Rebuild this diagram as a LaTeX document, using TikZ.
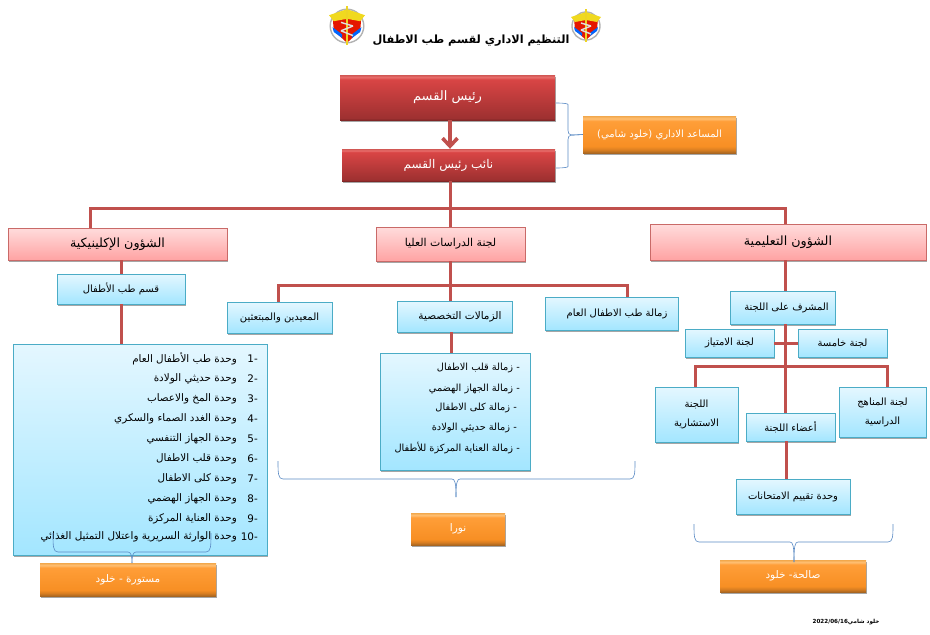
\documentclass[tikz,border=0pt]{standalone}
\usepackage{fontspec}
\usetikzlibrary{shadows,arrows.meta}
\TeXXeTstate=1
\newfontfamily\arabicfont[Script=Arabic]{DejaVu Sans}
\newcommand{\ar}[1]{{\arabicfont\beginR #1\endR}}
\definecolor{linkred}{HTML}{C0504D}
\definecolor{braceblue}{HTML}{5B8BC4}
\definecolor{pinktop}{HTML}{FFDCDC}
\definecolor{pinkbottom}{HTML}{FFA3A3}
\definecolor{bluetop}{HTML}{E4F7FF}
\definecolor{bluebottom}{HTML}{A3E6FF}
\definecolor{blueline}{HTML}{4BACC6}
\pgfdeclareverticalshading{redshade}{100bp}{rgb(0bp)=(0.50,0.15,0.15);rgb(25bp)=(0.50,0.15,0.15);
  rgb(27bp)=(0.62,0.19,0.19);rgb(70bp)=(0.85,0.27,0.27);rgb(72.5bp)=(0.91,0.43,0.42);rgb(75bp)=(0.82,0.34,0.33);rgb(100bp)=(0.82,0.34,0.33)}
\pgfdeclareverticalshading{orangeshade}{100bp}{rgb(0bp)=(0.66,0.40,0.13);rgb(25bp)=(0.66,0.40,0.13);
  rgb(29bp)=(0.84,0.49,0.13);rgb(34bp)=(0.97,0.56,0.14);rgb(68bp)=(1,0.62,0.22);rgb(71.5bp)=(1,0.75,0.45);rgb(75bp)=(0.95,0.66,0.30);rgb(100bp)=(0.95,0.66,0.30)}
\tikzset{
  box/.style={inner sep=1pt,align=center,text=black,drop shadow={shadow xshift=.8pt,shadow yshift=-1.5pt,opacity=.35,fill=black}},
  redbox/.style={box,shading=redshade,text=white,font=\fontsize{13}{15}\selectfont},
  orangebox/.style={box,shading=orangeshade,text=white,font=\fontsize{10.5}{12}\selectfont},
  pinkbox/.style={box,draw=linkred!85,line width=.8pt,top color=pinktop,bottom color=pinkbottom,font=\fontsize{12.7}{15}\selectfont},
  bluebox/.style={box,draw=blueline,line width=.8pt,top color=bluetop,bottom color=bluebottom,font=\fontsize{10}{12}\selectfont},
  rowtext/.style={inner sep=0pt,font=\fontsize{10.4}{12}\selectfont},
  fellowtext/.style={inner sep=0pt,font=\fontsize{9.8}{12}\selectfont},
  link/.style={draw=linkred,line width=3pt},
  bracket/.style={draw=braceblue,line width=.6pt,rounded corners=2.5pt},
}
\begin{document}
\begin{tikzpicture}[x=1pt,y=-1pt]
\useasboundingbox (0,0) rectangle (930,635);

% title and the two emblems
\node[inner sep=0pt,font=\fontsize{11.3}{13}\selectfont\bfseries] (title) at (471,41) {\ar{التنظيم الاداري لقسم طب الاطفال}};
\foreach \ex/\ey/\es in {347/26/1.2,586/26/1}{
  \begin{scope}[shift={(\ex,\ey)},scale=\es]
    \draw[gray!60,line width=1.4pt] (0,0) circle[radius=14pt];
    \fill[red!80!orange!90!black] (-12,-8) -- (12,-8) -- (11,4) -- (0,14) -- (-11,4) -- cycle;
    \fill[blue!60!cyan] (-12,1) -- (-4,7) -- (-4,10) -- (-11,5) -- cycle;
    \fill[blue!60!cyan] (12,1) -- (4,7) -- (4,10) -- (11,5) -- cycle;
    \fill[yellow!75!brown] (-15,-9) -- (0,-14) -- (15,-9) -- (11,-4) -- (0,-6) -- (-11,-4) -- cycle;
    \fill[yellow!70!brown] (-1.1,-17) rectangle (1.1,16);
    \draw[gray!25,line width=1.4pt] (-5,-3) -- (5,0) (5,0) -- (-5,4) (-5,4) -- (5,8);
  \end{scope}
}

% top of the chart
\node[redbox,minimum width=215pt,minimum height=45pt] (head) at (447.5,97.5) {\ar{رئيس القسم}};
\node[redbox,minimum width=213pt,minimum height=32pt,font=\fontsize{12}{14}\selectfont] (deputy) at (448.5,165) {\ar{نائب رئيس القسم}};
\node[orangebox,minimum width=153pt,minimum height=37pt,font=\fontsize{10}{12}\selectfont] (assistant) at (659.5,134.5) {\ar{المساعد الاداري (خلود شامي)}};

% the three offices
\node[pinkbox,minimum width=219pt,minimum height=32pt] (clinical) at (117.5,244) {\ar{الشؤون الإكلينيكية}};
\node[pinkbox,minimum width=149pt,minimum height=34pt,font=\fontsize{10.9}{13}\selectfont] (postgrad) at (450.5,244) {\ar{لجنة الدراسات العليا}};
\node[pinkbox,minimum width=276pt,minimum height=36pt] (education) at (788,242) {\ar{الشؤون التعليمية}};

% left branch
\node[bluebox,minimum width=128pt,minimum height=30pt] (pediatrics) at (121,289) {\ar{قسم طب الأطفال}};
\node[bluebox,minimum width=254pt,minimum height=211pt] (unitlist) at (140,449.5) {};
\foreach \n/\y/\t in {1/359/وحدة طب الأطفال العام,2/379/وحدة حديثي الولادة,3/399/وحدة المخ والاعصاب,4/419/وحدة الغدد الصماء والسكري,5/439/وحدة الجهاز التنفسي,6/459/وحدة قلب الاطفال,7/479/وحدة كلى الاطفال,8/499/وحدة الجهاز الهضمي,9/519/وحدة العناية المركزة,10/537/وحدة الوارثة السريرية واعتلال التمثيل الغذائي}{
  \node[rowtext,anchor=east] (unit\n) at (237,\y) {\ar{\t}};
  \node[rowtext,anchor=east] (num\n) at (258,\y) {\arabicfont -\n};
}
\node[orangebox,minimum width=176pt,minimum height=33pt] (mastoura) at (128,579.5) {\ar{مستورة - خلود}};

% middle branch
\node[bluebox,minimum width=105pt,minimum height=31pt] (assistants) at (279.5,317.5) {\ar{المعيدين والمبتعثين}};
\node[bluebox,minimum width=115pt,minimum height=31pt,font=\fontsize{10.5}{12}\selectfont] (fellowships) at (454.5,316.5) {\hspace*{11pt}\ar{الزمالات التخصصية}};
\node[bluebox,minimum width=133pt,minimum height=33pt] (general) at (611.5,313.5) {\hspace*{11pt}\ar{زمالة طب الاطفال العام}};
\node[bluebox,minimum width=150pt,minimum height=117pt] (fellowlist) at (455,411.5) {};
\foreach \n/\x/\y/\t in {1/520/368/- زمالة قلب الاطفال,2/520/389/- زمالة الجهاز الهضمي,3/517/408/- زمالة كلى الاطفال,4/517/428/- زمالة حديثي الولادة,5/520/448/- زمالة العناية المركزة للأطفال}{
  \node[fellowtext,anchor=east] (fellow\n) at (\x,\y) {\ar{\t}};
}
\node[orangebox,minimum width=94pt,minimum height=32pt] (noura) at (458,529) {\ar{نورا}};

% right branch
\node[bluebox,minimum width=105pt,minimum height=33pt] (supervisor) at (782.5,307.5) {\hspace*{8pt}\ar{المشرف على اللجنة}};
\node[bluebox,minimum width=89pt,minimum height=28pt] (excellence) at (729.5,343) {\ar{لجنة الامتياز}};
\node[bluebox,minimum width=89pt,minimum height=28pt] (fifth) at (842.5,343) {\ar{لجنة خامسة}};
\node[bluebox,minimum width=83pt,minimum height=55pt] (advisory) at (696.5,414.5) {\ar{اللجنة}\\[7pt]\ar{الاستشارية}};
\node[bluebox,minimum width=89pt,minimum height=28pt] (members) at (790.5,427) {\ar{أعضاء اللجنة}};
\node[bluebox,minimum width=87pt,minimum height=50pt] (curriculum) at (882.5,412) {\ar{لجنة المناهج}\\[7pt]\ar{الدراسية}};
\node[bluebox,minimum width=114pt,minimum height=35pt] (exams) at (793,496.5) {\ar{وحدة تقييم الامتحانات}};
\node[orangebox,minimum width=146pt,minimum height=32pt] (saliha) at (793,576) {\ar{صالحة- خلود}};

\node[inner sep=0pt,font=\fontsize{5.6}{7}\selectfont\bfseries] (stamp) at (846,622) {\ar{خلود شامي\beginL 2022/06/16\endL}};

% connectors
\coordinate (busleft) at (90,208);
\coordinate (busmid) at (450,208);
\coordinate (busright) at (785,208);
\coordinate (barleft) at (278,285);
\coordinate (barmid) at (450,285);
\coordinate (barright) at (627,285);
\coordinate (lowleft) at (695,366);
\coordinate (lowright) at (887,366);
\coordinate (fellowdrop) at (451,340);
\coordinate (examdrop) at (786,460);

\draw[link,line width=4pt,-{Straight Barb[length=8pt,width=15pt,line width=3.6pt]}] (busmid |- head.south) -- (busmid |- deputy.north);
\draw[link] (busmid |- deputy.south) -- (busmid |- postgrad.north);
\draw[link] (busleft |- clinical.north) -- (busleft) -- (busright) -- (busright |- education.north);
\draw[link] (clinical.south -| pediatrics.north) -- (pediatrics.north);
\draw[link] (pediatrics.south) -- (pediatrics.south |- unitlist.north);
\draw[link] (barmid |- postgrad.south) -- (barmid |- fellowships.north);
\draw[link] (barleft |- assistants.north) -- (barleft) -- (barright) -- (barright |- general.north);
\draw[link] (fellowdrop |- fellowships.south) -- (fellowdrop |- fellowlist.north);
\draw[link] (busright |- education.south) -- (busright |- supervisor.north);
\draw[link] (busright |- supervisor.south) -- (busright |- members.north);
\draw[link] (excellence.east) -- (fifth.west);
\draw[link] (lowleft |- advisory.north) -- (lowleft) -- (lowright) -- (lowright |- curriculum.north);
\draw[link] (examdrop |- members.south) -- (examdrop |- exams.north);

% braces
\draw[bracket] (assistant.west) -- (574,135) .. controls (569,135) and (568,133) .. (568,128) -- (568,107) .. controls (568,104) and (566,103) .. (556,103);
\draw[bracket] (assistant.west) -- (574,135) .. controls (569,135) and (568,137) .. (568,142) -- (568,164) .. controls (568,167) and (566,168) .. (556,168);
\foreach \xa/\xb/\xt/\ya/\yb/\yc in {278/635/456/461/479/497,53/211/132/533/552/563,694/893/794/524/542/562}{
  \draw[bracket,rounded corners=0pt] (\xa,\ya) .. controls (\xa,\yb-6) and (\xa,\yb) .. (\xa+5,\yb) -- (\xt-4,\yb) .. controls (\xt-1,\yb) and (\xt,\yb+4) .. (\xt,\yc);
  \draw[bracket,rounded corners=0pt] (\xb,\ya) .. controls (\xb,\yb-6) and (\xb,\yb) .. (\xb-5,\yb) -- (\xt+4,\yb) .. controls (\xt+1,\yb) and (\xt,\yb+4) .. (\xt,\yc);
}
\end{tikzpicture}
\end{document}
